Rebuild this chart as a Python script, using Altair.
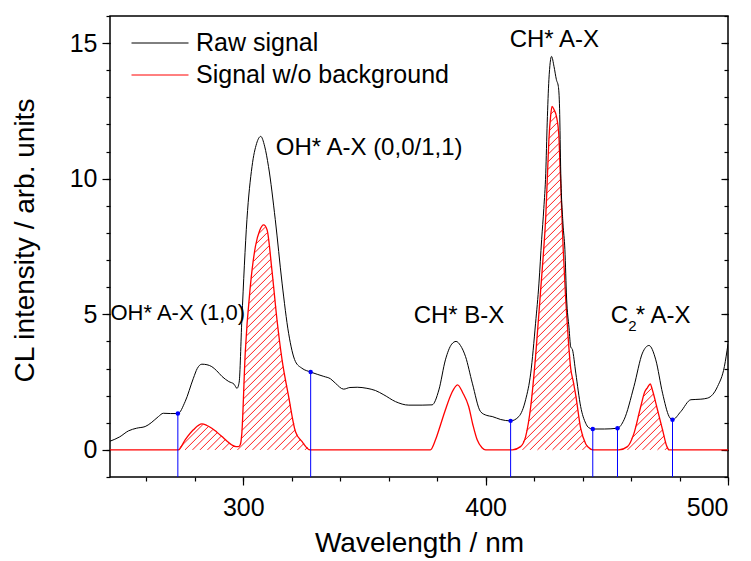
import altair as alt
import numpy as np
import pandas as pd

FONT = "Liberation Sans"

# ---------------- data ----------------
raw_wl = [245, 249, 252.6, 256, 259.5, 262, 265, 267, 270, 273,
          276, 279.4, 281, 282.9, 285, 287, 289, 291.2, 294, 296.2,
          297.4, 298.3, 299.4, 301.5, 303.6, 305.5, 307.2, 308.8, 310.4, 313.2,
          316, 318.7, 321.5, 324.2, 327.8, 333.2, 336, 338, 341.4, 344,
          347, 351, 354.5, 358, 362.8, 368.3, 373.8, 377.9, 380.7, 383.4,
          386, 387.8, 389.6, 391.7, 394.5, 397.9, 400.5, 402.7, 406.2, 410.3,
          413.7, 416.5, 418.6, 420.6, 422, 423.1, 424, 424.8, 425.4, 426.1,
          427.2, 428.2, 429.2, 430, 430.5, 431, 431.9, 432.7, 433.4, 434.4,
          435.1, 435.8, 437.2, 439.2, 441.3, 442.5, 444.2, 449, 454.4, 457.1,
          461.2, 464.7, 467.4, 470.2, 473, 475.7, 477.1, 480.5, 484.7, 488.8,
          491.6, 495.7, 498.5, 500]
raw_val = [0.32, 0.48, 0.70, 0.80, 0.86, 1.0, 1.23, 1.35, 1.34, 1.34,
           1.78, 2.64, 3.0, 3.16, 3.14, 3.07, 2.92, 2.71, 2.52, 2.42,
           2.27, 2.5, 4.8, 8.49, 10.45, 11.3, 11.56, 11.2, 10.45, 8.49,
           6.15, 4.3, 3.26, 3.01, 2.87, 2.71, 2.62, 2.46, 2.24, 2.3,
           2.31, 2.27, 2.19, 2.03, 1.78, 1.65, 1.65, 1.66, 2.21, 3.32,
           3.9, 4.0, 3.85, 3.44, 2.46, 1.41, 1.27, 1.23, 1.12, 1.07,
           1.23, 1.85, 2.83, 4.67, 6.15, 7.75, 8.9, 10.2, 12.06, 13.65,
           14.51, 14.14, 13.65, 13.4, 12.6, 10.2, 8.36, 7.38, 5.6, 4.5,
           3.8, 3.7, 2.83, 1.6, 0.98, 0.82, 0.77, 0.77, 0.80, 1.11,
           2.34, 3.57, 3.85, 3.32, 2.09, 1.23, 1.11, 1.41, 1.85, 1.87,
           1.91, 2.34, 3.07, 3.9]

bg_wl = [245, 273.2, 276, 279.4, 282.9, 285, 287, 289, 291.2, 293.3,
         295.3, 297, 298, 298.7, 299.4, 300.8, 302.9, 305, 306.8, 308.4,
         309.8, 311.8, 313.9, 316, 318.7, 321.5, 324.2, 327.6, 377.2, 379.3,
         381.3, 383.4, 386, 388.4, 390.6, 393, 394.8, 396.5, 398.5, 400,
         411, 414.4, 416.5, 418.6, 420.6, 422.7, 423.8, 424.8, 425.4, 426.1,
         426.8, 427.4, 428.2, 429.2, 430.2, 430.6, 431.2, 432, 433, 434,
         435.1, 436.2, 437.2, 439.2, 441.3, 443.4, 444, 455, 458.5, 461.2,
         464, 465.7, 466.8, 467.9, 468.8, 470.9, 473, 474.8, 475.7, 500]
bg_val = [0, 0, 0.37, 0.74, 0.96, 0.9, 0.80, 0.66, 0.49, 0.32,
          0.18, 0.12, 0.12, 0.18, 0.61, 3.57, 6.03, 7.5, 8.1, 8.30,
          8.12, 6.64, 4.8, 3.32, 1.97, 0.68, 0.31, 0, 0, 0.37,
          0.9, 1.48, 2.1, 2.40, 2.1, 1.6, 0.9, 0.37, 0.08, 0,
          0, 0.12, 0.49, 1.6, 3.44, 5.9, 7.2, 8.6, 9.9, 11.44,
          12.3, 12.67, 12.55, 12.3, 11.6, 10.7, 9.3, 7.4, 5.6, 4.2,
          3.0, 2.5, 2.0, 0.8, 0.22, 0.03, 0, 0, 0.12, 0.61,
          1.6, 2.15, 2.3, 2.43, 2.21, 1.48, 0.74, 0.12, 0, 0]

# integration boundaries (blue markers)
bound_wl = [273.0, 327.8, 410.3, 444.2, 454.4, 477.1]
bound_val = [1.34, 2.87, 1.07, 0.77, 0.80, 1.11]

# hatched (integrated) ranges
hatch_lo = [273.2, 411.0, 455.0]
hatch_hi = [327.6, 444.0, 475.7]

series_names = ["Raw signal", "Signal w/o background"]

ann_text = ["OH* A-X (1,0)", "OH* A-X (0,0/1,1)", "CH* B-X", "CH* A-X", "C"]
ann_wl = [245.2, 313.4, 370.3, 409.9, 451.6]
ann_val = [4.79, 10.88, 4.67, 14.87, 4.67]
ann_size = [22, 24, 24, 24, 24]

X_MIN, X_MAX = 245, 500
Y_MIN, Y_MAX = -1, 16
W, H = 618, 461

assert len(raw_wl) == len(raw_val)
assert len(bg_wl) == len(bg_val)

df_raw = pd.DataFrame({"wl": raw_wl, "val": raw_val, "series": series_names[0]})
df_bg = pd.DataFrame({"wl": bg_wl, "val": bg_val, "series": series_names[1]})
df_b = pd.DataFrame({"wl": bound_wl, "val": bound_val, "ymin": Y_MIN})
df_ann = pd.DataFrame({"wl": ann_wl, "val": ann_val, "text": ann_text, "fs": ann_size})
df_c2 = df_ann[df_ann["text"] == "C"]

# ---------------- hatch lines (45 deg in screen space) ----------------
nm_per_px = (X_MAX - X_MIN) / W
u_per_px = (Y_MAX - Y_MIN) / H
slope = u_per_px / nm_per_px
spacing = 7.5 * nm_per_px
segs = []
for a, b in zip(hatch_lo, hatch_hi):
    xs_all = np.arange(a, b + 1e-9, 0.01)
    red_all = np.interp(xs_all, bg_wl, bg_val)
    ymax = red_all.max()
    k0 = int(np.floor((a - ymax / slope - X_MIN) / spacing)) - 1
    k1 = int(np.ceil((b - X_MIN) / spacing)) + 1
    for k in range(k0, k1 + 1):
        c = X_MIN + k * spacing
        m = xs_all >= c
        xs = xs_all[m]
        if len(xs) < 2:
            continue
        ys = (xs - c) * slope
        inside = ys <= red_all[m]
        idx = np.flatnonzero(inside)
        if len(idx) == 0:
            continue
        br = np.where(np.diff(idx) > 1)[0]
        st = np.concatenate([[idx[0]], idx[br + 1]])
        en = np.concatenate([idx[br], [idx[-1]]])
        for s, e in zip(st, en):
            if xs[e] - xs[s] < 0.15:
                continue
            segs.append({"x1": xs[s], "y1": ys[s], "x2": xs[e], "y2": ys[e]})
df_hatch = pd.DataFrame(segs)

# ---------------- chart ----------------
xscale = alt.Scale(domain=[X_MIN, X_MAX], nice=False, zero=False)
yscale = alt.Scale(domain=[Y_MIN, Y_MAX], nice=False, zero=False)

axis_common = dict(grid=False, domain=False, tickColor="black", labelColor="black",
                   labelFont=FONT, titleFont=FONT, titleFontWeight="normal", titleColor="black")

x_main = alt.Axis(values=[300, 400, 500], tickSize=8, tickWidth=1.2, labelFontSize=25,
                  labelPadding=10, title="Wavelength / nm", titleFontSize=28,
                  titleY=74, titleBaseline="alphabetic", orient="bottom", **axis_common)
y_main = alt.Axis(values=[0, 5, 10, 15], tickSize=8, tickWidth=1.2, labelFontSize=25,
                  labelPadding=5, title="CL intensity / arb. units", titleFontSize=28,
                  titleX=-77, titleY=224, titleBaseline="alphabetic", titleAngle=270,
                  orient="left", **axis_common)

leg_common = dict(title=None, orient="none", symbolType="stroke", symbolSize=3249,
                  symbolStrokeWidth=1, labelFontSize=25, labelFont=FONT, labelColor="black",
                  labelOffset=7, labelLimit=600, padding=0, legendX=21)

black = alt.Chart(df_raw).mark_line(strokeWidth=1, clip=True, interpolate="monotone").encode(
    x=alt.X("wl:Q", scale=xscale, axis=x_main),
    y=alt.Y("val:Q", scale=yscale, axis=y_main),
    color=alt.Color("series:N", scale=alt.Scale(domain=[series_names[0]], range=["black"]),
                    legend=alt.Legend(legendY=-2, **leg_common)),
)

red = alt.Chart(df_bg).mark_line(strokeWidth=1.3, clip=True, interpolate="monotone").encode(
    x=alt.X("wl:Q", scale=xscale, axis=None),
    y=alt.Y("val:Q", scale=yscale, axis=None),
    stroke=alt.Stroke("series:N", scale=alt.Scale(domain=[series_names[1]], range=["red"]),
                      legend=alt.Legend(legendY=30, **leg_common)),
)

hatch = alt.Chart(df_hatch).mark_rule(color="red", strokeWidth=0.9).encode(
    x=alt.X("x1:Q", scale=xscale, axis=None),
    y=alt.Y("y1:Q", scale=yscale, axis=None),
    x2="x2:Q", y2="y2:Q",
)

brules = alt.Chart(df_b).mark_rule(color="blue", strokeWidth=1).encode(
    x=alt.X("wl:Q", scale=xscale, axis=None),
    y=alt.Y("ymin:Q", scale=yscale, axis=None),
    y2="val:Q",
)
bdots = alt.Chart(df_b).mark_circle(color="blue", size=20, opacity=1).encode(
    x=alt.X("wl:Q", scale=xscale, axis=None),
    y=alt.Y("val:Q", scale=yscale, axis=None),
)

ann = alt.Chart(df_ann).mark_text(align="left", baseline="alphabetic", font=FONT, color="black").encode(
    x=alt.X("wl:Q", scale=xscale, axis=None),
    y=alt.Y("val:Q", scale=yscale, axis=None),
    text="text:N",
    size=alt.Size("fs:Q", scale=None, legend=None),
)
sub2 = alt.Chart(df_c2).mark_text(align="left", baseline="alphabetic", font=FONT, color="black",
                                  fontSize=15, dx=17.5, dy=8, text="2").encode(
    x=alt.X("wl:Q", scale=xscale, axis=None),
    y=alt.Y("val:Q", scale=yscale, axis=None),
)
rest = alt.Chart(df_c2).mark_text(align="left", baseline="alphabetic", font=FONT, color="black",
                                  fontSize=24, dx=25, text="* A-X").encode(
    x=alt.X("wl:Q", scale=xscale, axis=None),
    y=alt.Y("val:Q", scale=yscale, axis=None),
)

# extra axes: minor ticks and the inward ticks on the right
minor_ax = alt.Chart(df_b).mark_point(opacity=0).encode(
    x=alt.X("wl:Q", scale=xscale,
            axis=alt.Axis(values=list(range(260, 501, 20)), tickSize=4, tickWidth=1.2, labels=False,
                          title=None, orient="bottom", **axis_common)),
    y=alt.Y("val:Q", scale=yscale,
            axis=alt.Axis(values=list(range(-1, 17)), tickSize=4, tickWidth=1.2, labels=False,
                          title=None, orient="left", **axis_common)),
)
right_major = alt.Chart(df_b).mark_point(opacity=0).encode(
    x=alt.X("wl:Q", scale=xscale, axis=None),
    y=alt.Y("val:Q", scale=yscale,
            axis=alt.Axis(values=[0, 5, 10, 15], tickSize=7, tickWidth=1.2, labels=False,
                          title=None, orient="right", offset=-7, **axis_common)),
)
right_minor = alt.Chart(df_b).mark_point(opacity=0).encode(
    x=alt.X("wl:Q", scale=xscale, axis=None),
    y=alt.Y("val:Q", scale=yscale,
            axis=alt.Axis(values=list(range(-1, 17)), tickSize=4, tickWidth=1.2, labels=False,
                          title=None, orient="right", offset=-4, **axis_common)),
)

chart = alt.layer(
    hatch, red, brules, black, bdots, ann, sub2, rest, minor_ax, right_major, right_minor
).resolve_axis(
    x="independent", y="independent"
).resolve_legend(
    color="independent", stroke="independent"
).properties(
    width=W, height=H,
    autosize=alt.AutoSizeParams(type="none"),
    padding={"left": 110, "top": 16, "right": 23, "bottom": 84},
    background="white",
).configure_view(
    stroke="black", strokeWidth=1.5
)

chart.save("out.html", embed_options={"renderer": "svg", "actions": False})
